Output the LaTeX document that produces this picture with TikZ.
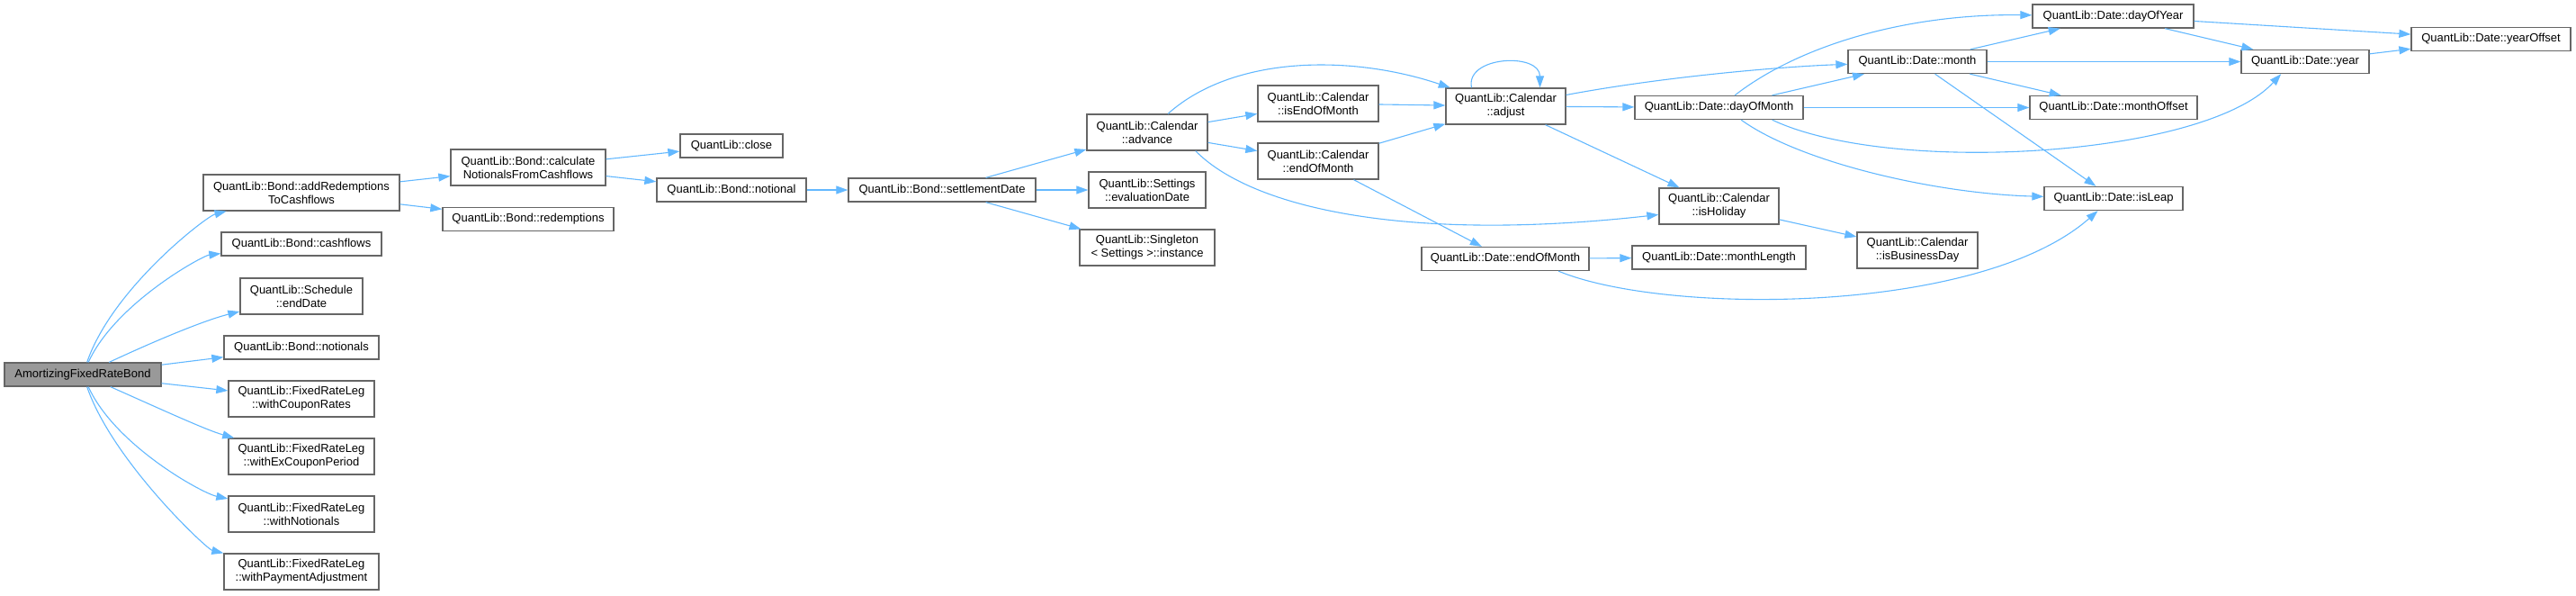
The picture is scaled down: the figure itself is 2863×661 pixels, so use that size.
\documentclass[tikz,border=0pt]{standalone}
\usepackage{fontspec}
\setmainfont{Liberation Sans}
\usetikzlibrary{arrows.meta}
\definecolor{edgeblue}{HTML}{63B8FF}
\definecolor{boxgray}{HTML}{666666}
\definecolor{rootfill}{HTML}{999999}
\tikzset{
  fn/.style={draw=boxgray, line width=0.65pt, fill=white, inner sep=0pt, align=center,
    font=\fontsize{6.5pt}{7.5pt}\selectfont, minimum height=13pt},
  fntwo/.style={fn, minimum height=20pt},
  rootfn/.style={fn, fill=rootfill},
  call/.style={draw=edgeblue, line width=0.55pt, -{Triangle[length=6.5pt,width=4.5pt]}},
}
\begin{document}
\begin{tikzpicture}[x=0.5pt,y=-0.5pt]
\useasboundingbox (0,0) rectangle (2863,661);

% column 0
\node[rootfn, minimum width=87pt] (amort) at (92,416) {AmortizingFixedRateBond};
% column 1
\node[fntwo, minimum width=109pt] (addRed) at (335,214) {QuantLib::Bond::addRedemptions\\ToCashflows};
\node[fn, minimum width=89pt] (cashflows) at (335,271) {QuantLib::Bond::cashflows};
\node[fntwo, minimum width=68pt] (endDate) at (335,329) {QuantLib::Schedule\\::endDate};
\node[fn, minimum width=86pt] (notionals) at (335,386) {QuantLib::Bond::notionals};
\node[fntwo, minimum width=81pt] (wCoupon) at (335,443) {QuantLib::FixedRateLeg\\::withCouponRates};
\node[fntwo, minimum width=81pt] (wExCoupon) at (335,507) {QuantLib::FixedRateLeg\\::withExCouponPeriod};
\node[fntwo, minimum width=81pt] (wNotionals) at (335,571) {QuantLib::FixedRateLeg\\::withNotionals};
\node[fntwo, minimum width=86pt] (wPay) at (335,635) {QuantLib::FixedRateLeg\\::withPaymentAdjustment};
% column 2
\node[fntwo, minimum width=86pt] (calc) at (587,186) {QuantLib::Bond::calculate\\NotionalsFromCashflows};
\node[fn, minimum width=95pt] (redem) at (587,243.5) {QuantLib::Bond::redemptions};
% column 3
\node[fn, minimum width=57pt] (close) at (813,162) {QuantLib::close};
\node[fn, minimum width=83pt] (notional) at (813,211) {QuantLib::Bond::notional};
% column 4
\node[fn, minimum width=104pt] (settle) at (1047,211) {QuantLib::Bond::settlementDate};
% column 5
\node[fntwo, minimum width=67pt] (advance) at (1275,147) {QuantLib::Calendar\\::advance};
\node[fntwo, minimum width=65pt] (evalDate) at (1275,211) {QuantLib::Settings\\::evaluationDate};
\node[fntwo, minimum width=75pt] (instance) at (1275,275) {QuantLib::Singleton\\< Settings >::instance};
% column 6
\node[fntwo, minimum width=67pt] (isEOM) at (1465,115) {QuantLib::Calendar\\::isEndOfMonth};
\node[fntwo, minimum width=67pt] (calEOM) at (1465,179) {QuantLib::Calendar\\::endOfMonth};
% column 7
\node[fntwo, minimum width=66.5pt] (adjust) at (1673.5,118) {QuantLib::Calendar\\::adjust};
\node[fn, minimum width=93pt] (dateEOM) at (1673,287.5) {QuantLib::Date::endOfMonth};
% column 8
\node[fn, minimum width=93.5pt] (dom) at (1910.5,119.5) {QuantLib::Date::dayOfMonth};
\node[fntwo, minimum width=66.5pt] (isHol) at (1910.5,229) {QuantLib::Calendar\\::isHoliday};
\node[fn, minimum width=96.5pt] (mlen) at (1910.5,286) {QuantLib::Date::monthLength};
% column 9
\node[fn, minimum width=77pt] (month) at (2131,68.5) {QuantLib::Date::month};
\node[fntwo, minimum width=67pt] (isBD) at (2131,278) {QuantLib::Calendar\\::isBusinessDay};
% column 10
\node[fn, minimum width=89.5pt] (doy) at (2348.5,18) {QuantLib::Date::dayOfYear};
\node[fn, minimum width=93pt] (mOff) at (2349,119.5) {QuantLib::Date::monthOffset};
\node[fn, minimum width=77pt] (isLeap) at (2349,220.5) {QuantLib::Date::isLeap};
% column 11
\node[fn, minimum width=71pt] (year) at (2562,68.5) {QuantLib::Date::year};
% column 12
\node[fn, minimum width=88.5pt] (yOff) at (2768.5,43.5) {QuantLib::Date::yearOffset};

% edges from root
\draw[call] (amort) .. controls (125,320) and (230,240) .. (addRed);
\draw[call] (amort) .. controls (128,337) and (225,284) .. (cashflows);
\draw[call] (amort) .. controls (180,375) and (230,355) .. (endDate);
\draw[call] (amort) -- (notionals);
\draw[call] (amort) -- (wCoupon);
\draw[call] (amort) .. controls (180,455) and (230,478) .. (wExCoupon);
\draw[call] (amort) .. controls (128,495) and (225,548) .. (wNotionals);
\draw[call] (amort) .. controls (125,512) and (230,610) .. (wPay);

\draw[call] (addRed) -- (calc);
\draw[call] (addRed) -- (redem);
\draw[call] (calc) -- (close);
\draw[call] (calc) -- (notional);
\draw[call] (notional) -- (settle);
\draw[call] (settle) -- (advance);
\draw[call] (settle) -- (evalDate);
\draw[call] (settle) -- (instance);

\draw[call] (advance) .. controls (1370,62) and (1500,60) .. (adjust);
\draw[call] (advance) -- (isEOM);
\draw[call] (advance) -- (calEOM);
\draw[call] (advance.-21) .. controls (1390,230) and (1560,270) .. (isHol.188);

\draw[call] (isEOM) -- (adjust);
\draw[call] (calEOM) -- (adjust);
\draw[call] (calEOM) -- (dateEOM);

\draw[call] ([xshift=-19pt]adjust.north) .. controls (1628,62) and (1711.5,58) .. ([xshift=19pt]adjust.north);
\draw[call] (adjust) .. controls (1850,85) and (1980,74) .. (month);
\draw[call] (adjust) -- (dom);
\draw[call] (adjust) -- (isHol);

\draw[call] (dom) .. controls (2000,50) and (2120,15) .. (doy);
\draw[call] (dom) -- (month);
\draw[call] (dom) -- (mOff);
\draw[call] (dom.-13) .. controls (2100,195) and (2450,175) .. (year.207);
\draw[call] (dom.-29) .. controls (2000,180) and (2150,215) .. (isLeap);

\draw[call] (isHol) -- (isBD);
\draw[call] (dateEOM) -- (mlen);
\draw[call] (dateEOM.-13) .. controls (1850,350) and (2200,350) .. (isLeap.218);

\draw[call] (month) -- (doy);
\draw[call] (month) -- (year);
\draw[call] (month) -- (mOff);
\draw[call] (month) -- (isLeap);

\draw[call] (doy) -- (yOff);
\draw[call] (doy) -- (year);
\draw[call] (year) -- (yOff);
\end{tikzpicture}
\end{document}
